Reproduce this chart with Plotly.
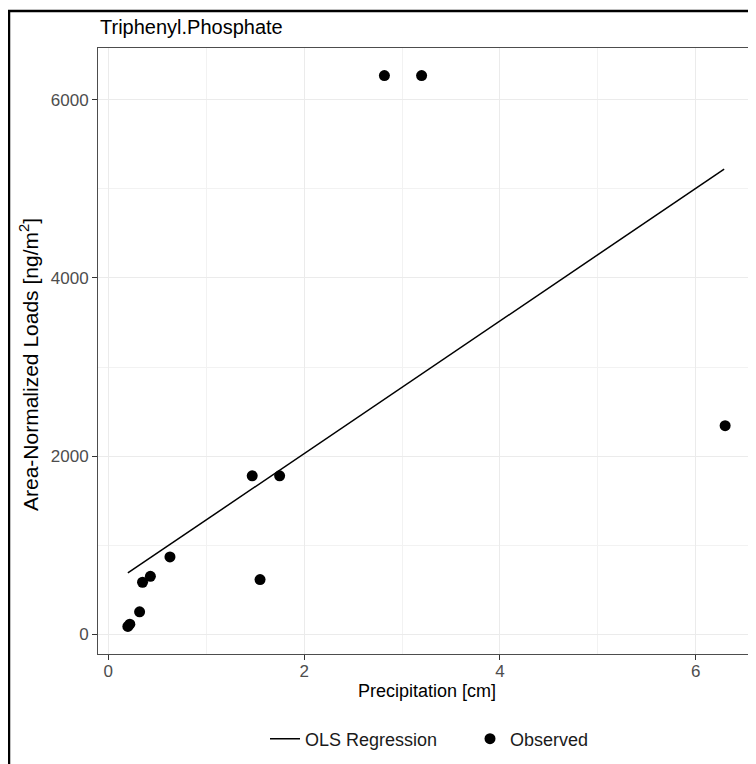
import plotly.graph_objects as go

# ---- data ----
precip_cm = [0.20, 0.22, 0.32, 0.35, 0.43, 0.63, 1.47, 1.55, 1.75, 2.82, 3.20, 6.30]
loads_ng_m2 = [90, 115, 254, 586, 653, 870, 1780, 616, 1780, 6270, 6270, 2342]

ols_x = [0.20, 6.29]
ols_y = [690, 5220]

x_ticks = [0, 2, 4, 6]
y_ticks = [0, 2000, 4000, 6000]
x_minor = [1, 3, 5]
y_minor = [1000, 3000, 5000]

# The page body has an 8px margin, so figure pixels = screen pixels - 8.
S = 8
W, H = 756 - S, 764 - S
L, T = 98 - S, 48 - S
PR, PB = 755 - S, 654 - S          # panel right / bottom in figure pixels
R, B = W - PR, H - PB
PW, PH = PR - L, PB - T


def px_x(sx):
    """screen x pixel -> paper x"""
    return (sx - S - L) / PW


def px_y(sy):
    """screen y pixel -> paper y"""
    return (PB - (sy - S)) / PH


def expand(vals, f=0.05):
    lo, hi = min(vals), max(vals)
    d = (hi - lo) * f
    return [lo - d, hi + d]


FONT = "Liberation Sans, Arial, sans-serif"

fig = go.Figure()
fig.add_trace(go.Scatter(
    x=ols_x, y=ols_y, mode="lines", name="OLS Regression",
    line=dict(color="black", width=1.5)))
fig.add_trace(go.Scatter(
    x=precip_cm, y=loads_ng_m2, mode="markers", name="Observed",
    marker=dict(color="black", size=11)))

axis_common = dict(
    showline=True, mirror=True, linecolor="#4d4d4d", linewidth=1,
    ticks="outside", ticklen=5, tickcolor="#333333", tickwidth=1,
    tickfont=dict(family=FONT, size=17, color="#4D4D4D"),
    showgrid=True, gridcolor="#EBEBEB", gridwidth=1.1,
    zeroline=False, automargin=False,
)

fig.update_xaxes(
    range=expand(precip_cm), tickvals=x_ticks, ticklabelstandoff=-3,
    minor=dict(showgrid=True, gridcolor="#F2F2F2", gridwidth=0.6, tickvals=x_minor),
    **axis_common)
fig.update_yaxes(
    range=expand(loads_ng_m2), tickvals=y_ticks,
    minor=dict(showgrid=True, gridcolor="#F2F2F2", gridwidth=0.6, tickvals=y_minor),
    **axis_common)

fig.update_layout(
    width=W, height=H,
    margin=dict(l=L, r=R, t=T, b=B),
    paper_bgcolor="white", plot_bgcolor="white",
    font=dict(family=FONT, color="#1a1a1a"),
    showlegend=True,
    legend=dict(orientation="h", x=px_x(265), y=px_y(739), xanchor="left", yanchor="middle",
                font=dict(family=FONT, size=18, color="#1a1a1a"), entrywidth=160,
                bgcolor="rgba(0,0,0,0)", borderwidth=0),
    annotations=[
        dict(text="Triphenyl.Phosphate", xref="paper", yref="paper",
             x=px_x(98), y=px_y(27), xanchor="left", yanchor="middle",
             showarrow=False, font=dict(family=FONT, size=20, color="black")),
        dict(text="Precipitation [cm]", xref="paper", yref="paper",
             x=px_x(426.5), y=px_y(691), xanchor="center", yanchor="middle",
             showarrow=False, font=dict(family=FONT, size=18, color="black")),
        dict(text="Area-Normalized Loads [ng/m<sup>2</sup>]", xref="paper", yref="paper",
             x=px_x(29), y=px_y(365), xanchor="center", yanchor="middle", textangle=-90,
             showarrow=False, font=dict(family=FONT, size=21, color="black")),
    ],
    shapes=[dict(type="rect", xref="paper", yref="paper",
                 x0=px_x(9), x1=px_x(800), y0=px_y(800), y1=px_y(11),
                 line=dict(color="black", width=2.5), layer="above")],
)

fig.write_html("out.html")
